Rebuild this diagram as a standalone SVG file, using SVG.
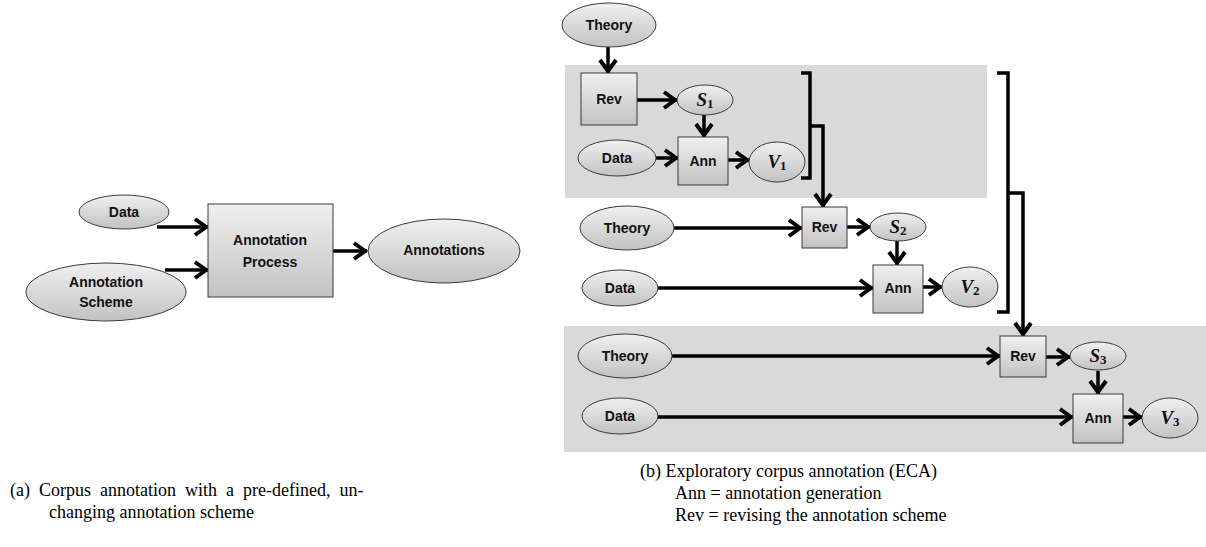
<svg xmlns="http://www.w3.org/2000/svg" width="1206" height="547" viewBox="0 0 1206 547">
<style>
.bg{fill:#d9d9d9;stroke:none}
.nd{fill:url(#g);stroke:#3a3a3a;stroke-width:1}
.lb{font-family:"Liberation Sans",Arial,sans-serif;font-weight:700;font-size:14px;fill:#111;text-anchor:middle;dominant-baseline:central}
.mv{font-family:"Liberation Serif","DejaVu Serif",serif;font-weight:700;font-style:italic;font-size:19px;fill:#111;text-anchor:middle;dominant-baseline:central}
.sb{font-style:normal;font-size:13px}
.cn{fill:none;stroke:#000;stroke-width:3.5;marker-end:url(#ah)}
.br{fill:none;stroke:#000;stroke-width:3.5;stroke-linejoin:miter}
.cap{font-family:"Liberation Serif","Times New Roman",serif;font-size:18px;fill:#000}
</style>
<defs>
<linearGradient id="g" x1="0" y1="0" x2="0" y2="1">
<stop offset="0" stop-color="#f0f0f0"/>
<stop offset="1" stop-color="#c2c2c2"/>
</linearGradient>
<marker id="ah" markerUnits="userSpaceOnUse" markerWidth="20" markerHeight="20" viewBox="0 0 20 20" refX="16" refY="10" orient="auto">
<path d="M3,2 L14,10 L3,18" fill="none" stroke="#000" stroke-width="4"/>
</marker>
</defs>

<g id="panels">
<rect class="bg" x="565" y="65" width="422" height="133"/>
<rect class="bg" x="564" y="326" width="642" height="126"/>
</g>

<g id="connectors">
<line class="cn" x1="157" y1="227" x2="208" y2="227"/>
<line class="cn" x1="165" y1="270" x2="208" y2="270"/>
<line class="cn" x1="333" y1="251" x2="367" y2="251"/>

<line class="cn" x1="608" y1="47" x2="608" y2="73"/>
<line class="cn" x1="637" y1="100" x2="677" y2="100"/>
<line class="cn" x1="704" y1="115" x2="704" y2="137"/>
<line class="cn" x1="656" y1="158" x2="678" y2="158"/>
<line class="cn" x1="728" y1="160" x2="749" y2="160"/>

<path class="br" d="M801,73 H810 V178 H801"/>
<path class="cn" d="M810,126 H823 V207"/>

<line class="cn" x1="674" y1="228" x2="802" y2="228"/>
<line class="cn" x1="847" y1="227" x2="870" y2="227"/>
<line class="cn" x1="897" y1="241" x2="897" y2="265"/>
<line class="cn" x1="658" y1="288" x2="873" y2="288"/>
<line class="cn" x1="923" y1="287" x2="942" y2="287"/>

<path class="br" d="M997,73 H1008 V312 H997"/>
<path class="cn" d="M1008,193 H1023 V336"/>

<line class="cn" x1="672" y1="356" x2="1000" y2="356"/>
<line class="cn" x1="1046" y1="357" x2="1070" y2="357"/>
<line class="cn" x1="1098" y1="371" x2="1098" y2="394"/>
<line class="cn" x1="658" y1="417" x2="1073" y2="417"/>
<line class="cn" x1="1123" y1="417" x2="1142" y2="417"/>
</g>

<g id="a-data"><ellipse class="nd" cx="124" cy="212" rx="45" ry="17"/><text class="lb" x="124" y="212">Data</text></g>
<g id="a-scheme"><ellipse class="nd" cx="106" cy="292" rx="80" ry="29"/><text class="lb" x="106" y="282">Annotation</text><text class="lb" x="106" y="302">Scheme</text></g>
<g id="a-process"><rect class="nd" x="208" y="204" width="125" height="93"/><text class="lb" x="270" y="240">Annotation</text><text class="lb" x="270" y="262">Process</text></g>
<g id="a-annotations"><ellipse class="nd" cx="444" cy="251" rx="76" ry="32"/><text class="lb" x="444" y="250">Annotations</text></g>

<g id="theory1"><ellipse class="nd" cx="609" cy="25" rx="47" ry="22"/><text class="lb" x="609" y="25">Theory</text></g>
<g id="rev1"><rect class="nd" x="581" y="73" width="56" height="52"/><text class="lb" x="609" y="99">Rev</text></g>
<g id="s1"><ellipse class="nd" cx="705" cy="100" rx="28" ry="15"/><text class="mv" x="705" y="99">S<tspan class="sb" dy="4">1</tspan></text></g>
<g id="data1"><ellipse class="nd" cx="617" cy="158" rx="39" ry="18"/><text class="lb" x="617" y="158">Data</text></g>
<g id="ann1"><rect class="nd" x="678" y="137" width="50" height="48"/><text class="lb" x="703" y="161">Ann</text></g>
<g id="v1"><ellipse class="nd" cx="777" cy="162" rx="28" ry="20"/><text class="mv" x="777" y="161">V<tspan class="sb" dy="4">1</tspan></text></g>

<g id="theory2"><ellipse class="nd" cx="627" cy="228" rx="47" ry="22"/><text class="lb" x="627" y="228">Theory</text></g>
<g id="rev2"><rect class="nd" x="802" y="207" width="45" height="41"/><text class="lb" x="824.5" y="227">Rev</text></g>
<g id="s2"><ellipse class="nd" cx="898" cy="227" rx="28" ry="14"/><text class="mv" x="898" y="226">S<tspan class="sb" dy="4">2</tspan></text></g>
<g id="data2"><ellipse class="nd" cx="620" cy="288" rx="38" ry="18"/><text class="lb" x="620" y="288">Data</text></g>
<g id="ann2"><rect class="nd" x="873" y="265" width="50" height="48"/><text class="lb" x="898" y="288">Ann</text></g>
<g id="v2"><ellipse class="nd" cx="970" cy="287" rx="28" ry="20"/><text class="mv" x="970" y="286">V<tspan class="sb" dy="4">2</tspan></text></g>

<g id="theory3"><ellipse class="nd" cx="625" cy="356" rx="47" ry="22"/><text class="lb" x="625" y="356">Theory</text></g>
<g id="rev3"><rect class="nd" x="1000" y="336" width="46" height="41"/><text class="lb" x="1023" y="356">Rev</text></g>
<g id="s3"><ellipse class="nd" cx="1098" cy="356" rx="28" ry="14"/><text class="mv" x="1098" y="355">S<tspan class="sb" dy="4">3</tspan></text></g>
<g id="data3"><ellipse class="nd" cx="620" cy="416" rx="38" ry="18"/><text class="lb" x="620" y="416">Data</text></g>
<g id="ann3"><rect class="nd" x="1073" y="394" width="50" height="49"/><text class="lb" x="1098" y="418">Ann</text></g>
<g id="v3"><ellipse class="nd" cx="1170" cy="418" rx="28" ry="20"/><text class="mv" x="1170" y="417">V<tspan class="sb" dy="4">3</tspan></text></g>

<g id="captions">
<text class="cap" x="10" y="496" style="word-spacing:4.5px">(a) Corpus annotation with a pre-defined, un-</text>
<text class="cap" x="49" y="518">changing annotation scheme</text>
<text class="cap" x="640" y="477">(b) Exploratory corpus annotation (ECA)</text>
<text class="cap" x="675" y="499">Ann = annotation generation</text>
<text class="cap" x="675" y="521">Rev = revising the annotation scheme</text>
</g>
</svg>
